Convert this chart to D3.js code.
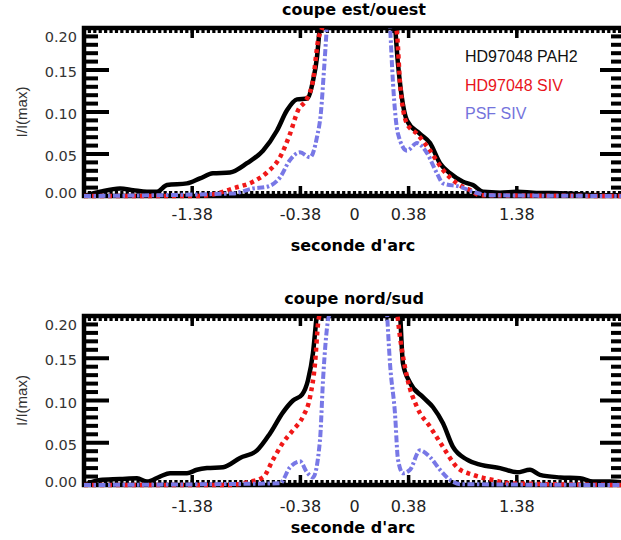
<!DOCTYPE html>
<html><head><meta charset="utf-8">
<script src="https://cdn.jsdelivr.net/npm/d3@7"></script>
<style>body{margin:0;background:#fff}</style>
</head><body>
<svg id="c" width="621" height="540"></svg>
<script>
// ---------- data ----------
const xMajorTicks = [-1.5, -0.5, 0.5, 1.5];
const xLabelValues = [-1.5, -0.5, 0, 0.5, 1.5];
const xLabels = ["-1.38", "-0.38", "0", "0.38", "1.38"];
const yTicks = [0, 0.05, 0.10, 0.15, 0.20];
const yTickLabels = ["0.00", "0.05", "0.10", "0.15", "0.20"];
const seriesNames = ["HD97048 PAH2", "HD97048 SIV", "PSF SIV"];
const panelTitles = ["coupe est/ouest", "coupe nord/sud"];
const xTitle = "seconde d'arc";
const yTitle = "I/I(max)";

// coupe est/ouest
const ewPah2 = [[-2.5,0.000],[-2.352,0.005],[-2.167,0.009],[-2.047,0.007],[-1.918,0.005],[-1.825,0.005],[-1.733,0.013],[-1.548,0.015],[-1.428,0.021],[-1.308,0.027],[-1.151,0.028],[-0.994,0.039],[-0.846,0.054],[-0.716,0.078],[-0.624,0.102],[-0.531,0.115],[-0.439,0.116],[-0.384,0.137],[-0.347,0.165],[-0.319,0.205],[0,1.0],[0.374,0.205],[0.400,0.160],[0.421,0.134],[0.485,0.090],[0.605,0.074],[0.698,0.063],[0.790,0.039],[0.883,0.027],[1.003,0.017],[1.095,0.013],[1.188,0.005],[1.345,0.004],[1.502,0.005],[1.650,0.004],[1.964,0.003],[2.269,0.001],[2.5,0.001]];
const ewSiv = [[-2.5,0.000],[-1.428,0.000],[-1.243,0.004],[-1.123,0.009],[-0.938,0.017],[-0.809,0.028],[-0.689,0.046],[-0.596,0.074],[-0.522,0.102],[-0.439,0.116],[-0.384,0.137],[-0.337,0.185],[-0.291,0.205],[0,1.0],[0.374,0.205],[0.393,0.193],[0.421,0.134],[0.485,0.086],[0.578,0.074],[0.698,0.054],[0.818,0.031],[0.948,0.015],[1.068,0.007],[1.160,0.001],[2.5,0.000]];
const ewPsf = [[-2.5,0.000],[-1.123,0.003],[-0.938,0.009],[-0.809,0.011],[-0.689,0.022],[-0.596,0.043],[-0.504,0.052],[-0.411,0.046],[-0.347,0.070],[-0.310,0.100],[-0.282,0.150],[-0.254,0.205],[0,1.0],[0.328,0.205],[0.356,0.134],[0.402,0.074],[0.485,0.054],[0.578,0.063],[0.670,0.051],[0.762,0.027],[0.818,0.015],[0.975,0.011],[1.095,0.005],[1.252,0.001],[2.5,0.000]];

// coupe nord/sud
const nsPah2 = [[-2.5,0.000],[-2.352,0.006],[-2.167,0.007],[-2.010,0.008],[-1.918,0.004],[-1.798,0.010],[-1.705,0.014],[-1.548,0.014],[-1.456,0.018],[-1.363,0.020],[-1.215,0.021],[-1.058,0.032],[-0.901,0.041],[-0.781,0.061],[-0.661,0.086],[-0.568,0.100],[-0.485,0.107],[-0.430,0.124],[-0.384,0.156],[-0.347,0.205],[0,1.0],[0.421,0.205],[0.448,0.144],[0.513,0.121],[0.633,0.104],[0.726,0.092],[0.818,0.073],[0.910,0.045],[1.040,0.030],[1.160,0.024],[1.345,0.020],[1.502,0.015],[1.622,0.018],[1.714,0.012],[1.899,0.009],[2.084,0.008],[2.204,0.004],[2.361,0.004],[2.5,0.003]];
const nsSiv = [[-2.5,0.000],[-1.150,0.000],[-0.966,0.004],[-0.846,0.009],[-0.753,0.030],[-0.661,0.050],[-0.568,0.065],[-0.476,0.081],[-0.411,0.104],[-0.365,0.144],[-0.337,0.191],[-0.319,0.205],[0,1.0],[0.393,0.205],[0.421,0.175],[0.485,0.128],[0.578,0.092],[0.698,0.069],[0.818,0.045],[0.948,0.021],[1.095,0.012],[1.280,0.006],[1.437,0.002],[2.5,0.000]];
const nsPsf = [[-2.5,0.000],[-0.689,0.002],[-0.596,0.021],[-0.504,0.028],[-0.439,0.015],[-0.384,0.009],[-0.319,0.053],[-0.291,0.124],[-0.245,0.195],[-0.226,0.205],[0,1.0],[0.300,0.205],[0.328,0.144],[0.374,0.085],[0.402,0.030],[0.448,0.014],[0.513,0.018],[0.605,0.041],[0.698,0.033],[0.790,0.018],[0.883,0.006],[0.975,0.001],[2.5,0.000]];

// ---------- drawing ----------
const svg = d3.select("#c");
const colors = ["#000000", "#f01818", "#7878e6"];
const legendColors = ["#111111", "#e8141c", "#7474dc"];
const dashes = [null, "4,4", "7,2.5,2.5,2.5"];
const widths = [4.5, 4.5, 4];
const X0 = 84, X1 = 625;
const x = d3.scaleLinear().domain([-2.5, 2.5]).range([X0, X1]);

const panels = [
  {top: 28, bottom: 196, titleY: 15, tickY: 220, axisY: 251, series: [ewPah2, ewSiv, ewPsf], legend: true},
  {top: 316, bottom: 485, titleY: 304, tickY: 512, axisY: 533, series: [nsPah2, nsSiv, nsPsf], legend: false}
];

panels.forEach((p, pi) => {
  const y = d3.scaleLinear().domain([0, 0.2]).range([p.bottom, p.top]);
  const g = svg.append("g");

  // frame
  g.append("rect").attr("x", X0).attr("y", p.top).attr("width", X1 - X0).attr("height", p.bottom - p.top)
    .attr("fill", "none").attr("stroke", "#000").attr("stroke-width", 4.5);

  // y ticks (left & right)
  const yMinor = d3.range(0, 21).map(i => i * 0.01);
  yMinor.forEach(v => {
    const major = Math.round(v * 100) % 5 === 0;
    const len = major ? 25 : 14;
    const yy = y(v);
    g.append("line").attr("x1", X0).attr("x2", X0 + len).attr("y1", yy).attr("y2", yy)
      .attr("stroke", "#000").attr("stroke-width", 4);
    g.append("line").attr("x1", X1).attr("x2", X1 - len).attr("y1", yy).attr("y2", yy)
      .attr("stroke", "#000").attr("stroke-width", 4);
  });

  // x ticks (top & bottom)
  const xMinor = d3.range(0, 101).map(i => -2.5 + i * 0.05);
  xMinor.forEach(v => {
    const xx = x(v);
    g.append("line").attr("x1", xx).attr("x2", xx).attr("y1", p.top).attr("y2", p.top + 5)
      .attr("stroke", "#000").attr("stroke-width", 3.2);
    g.append("line").attr("x1", xx).attr("x2", xx).attr("y1", p.bottom).attr("y2", p.bottom - 5)
      .attr("stroke", "#000").attr("stroke-width", 3.2);
  });
  xMajorTicks.forEach(v => {
    const xx = x(v);
    g.append("line").attr("x1", xx).attr("x2", xx).attr("y1", p.top).attr("y2", p.top + 10)
      .attr("stroke", "#000").attr("stroke-width", 3.5);
    g.append("line").attr("x1", xx).attr("x2", xx).attr("y1", p.bottom).attr("y2", p.bottom - 10)
      .attr("stroke", "#000").attr("stroke-width", 3.5);
  });

  // y tick labels
  yTicks.forEach((v, i) => {
    const yy = Math.max(p.top + 9, Math.min(p.bottom - 3, y(v) + 2));
    g.append("text").attr("x", 77).attr("y", yy).attr("dy", "0.36em")
      .attr("text-anchor", "end").attr("font-family", "DejaVu Sans").attr("font-size", 14.5)
      .attr("fill", "#333").text(yTickLabels[i]);
  });

  // x tick labels
  xLabelValues.forEach((v, i) => {
    g.append("text").attr("x", x(v)).attr("y", p.tickY).attr("text-anchor", "middle")
      .attr("font-family", "DejaVu Sans").attr("font-size", 16).attr("fill", "#222").text(xLabels[i]);
  });

  // titles
  g.append("text").attr("x", 354).attr("y", p.titleY).attr("text-anchor", "middle")
    .attr("font-family", "DejaVu Sans").attr("font-weight", "bold").attr("font-size", 16).text(panelTitles[pi]);
  g.append("text").attr("x", 353).attr("y", p.axisY).attr("text-anchor", "middle")
    .attr("font-family", "DejaVu Sans").attr("font-weight", "bold").attr("font-size", 16).text(xTitle);
  const ym = (p.top + p.bottom) / 2;
  g.append("text").attr("transform", `translate(27,${ym}) rotate(-90)`).attr("text-anchor", "middle")
    .attr("font-family", "Liberation Sans").attr("font-size", 15).attr("fill", "#333").text(yTitle);

  // curves
  const clipId = "clip" + pi;
  svg.append("clipPath").attr("id", clipId).append("rect")
    .attr("x", X0).attr("y", p.top).attr("width", X1 - X0).attr("height", p.bottom - p.top + 4);
  const line = d3.line().x(d => x(d[0])).y(d => y(d[1])).curve(d3.curveMonotoneX);
  const cg = g.append("g").attr("clip-path", `url(#${clipId})`);
  p.series.forEach((s, si) => {
    cg.append("path").attr("d", line(s)).attr("fill", "none")
      .attr("stroke", colors[si]).attr("stroke-width", widths[si])
      .attr("stroke-dasharray", dashes[si]).attr("stroke-linejoin", "round");
  });

  // legend
  if (p.legend) {
    seriesNames.forEach((n, i) => {
      g.append("text").attr("x", 465).attr("y", 62 + i * 28.5)
        .attr("font-family", "Liberation Sans").attr("font-size", 16)
        .attr("fill", legendColors[i]).text(n);
    });
  }
});
</script>
</body></html>
